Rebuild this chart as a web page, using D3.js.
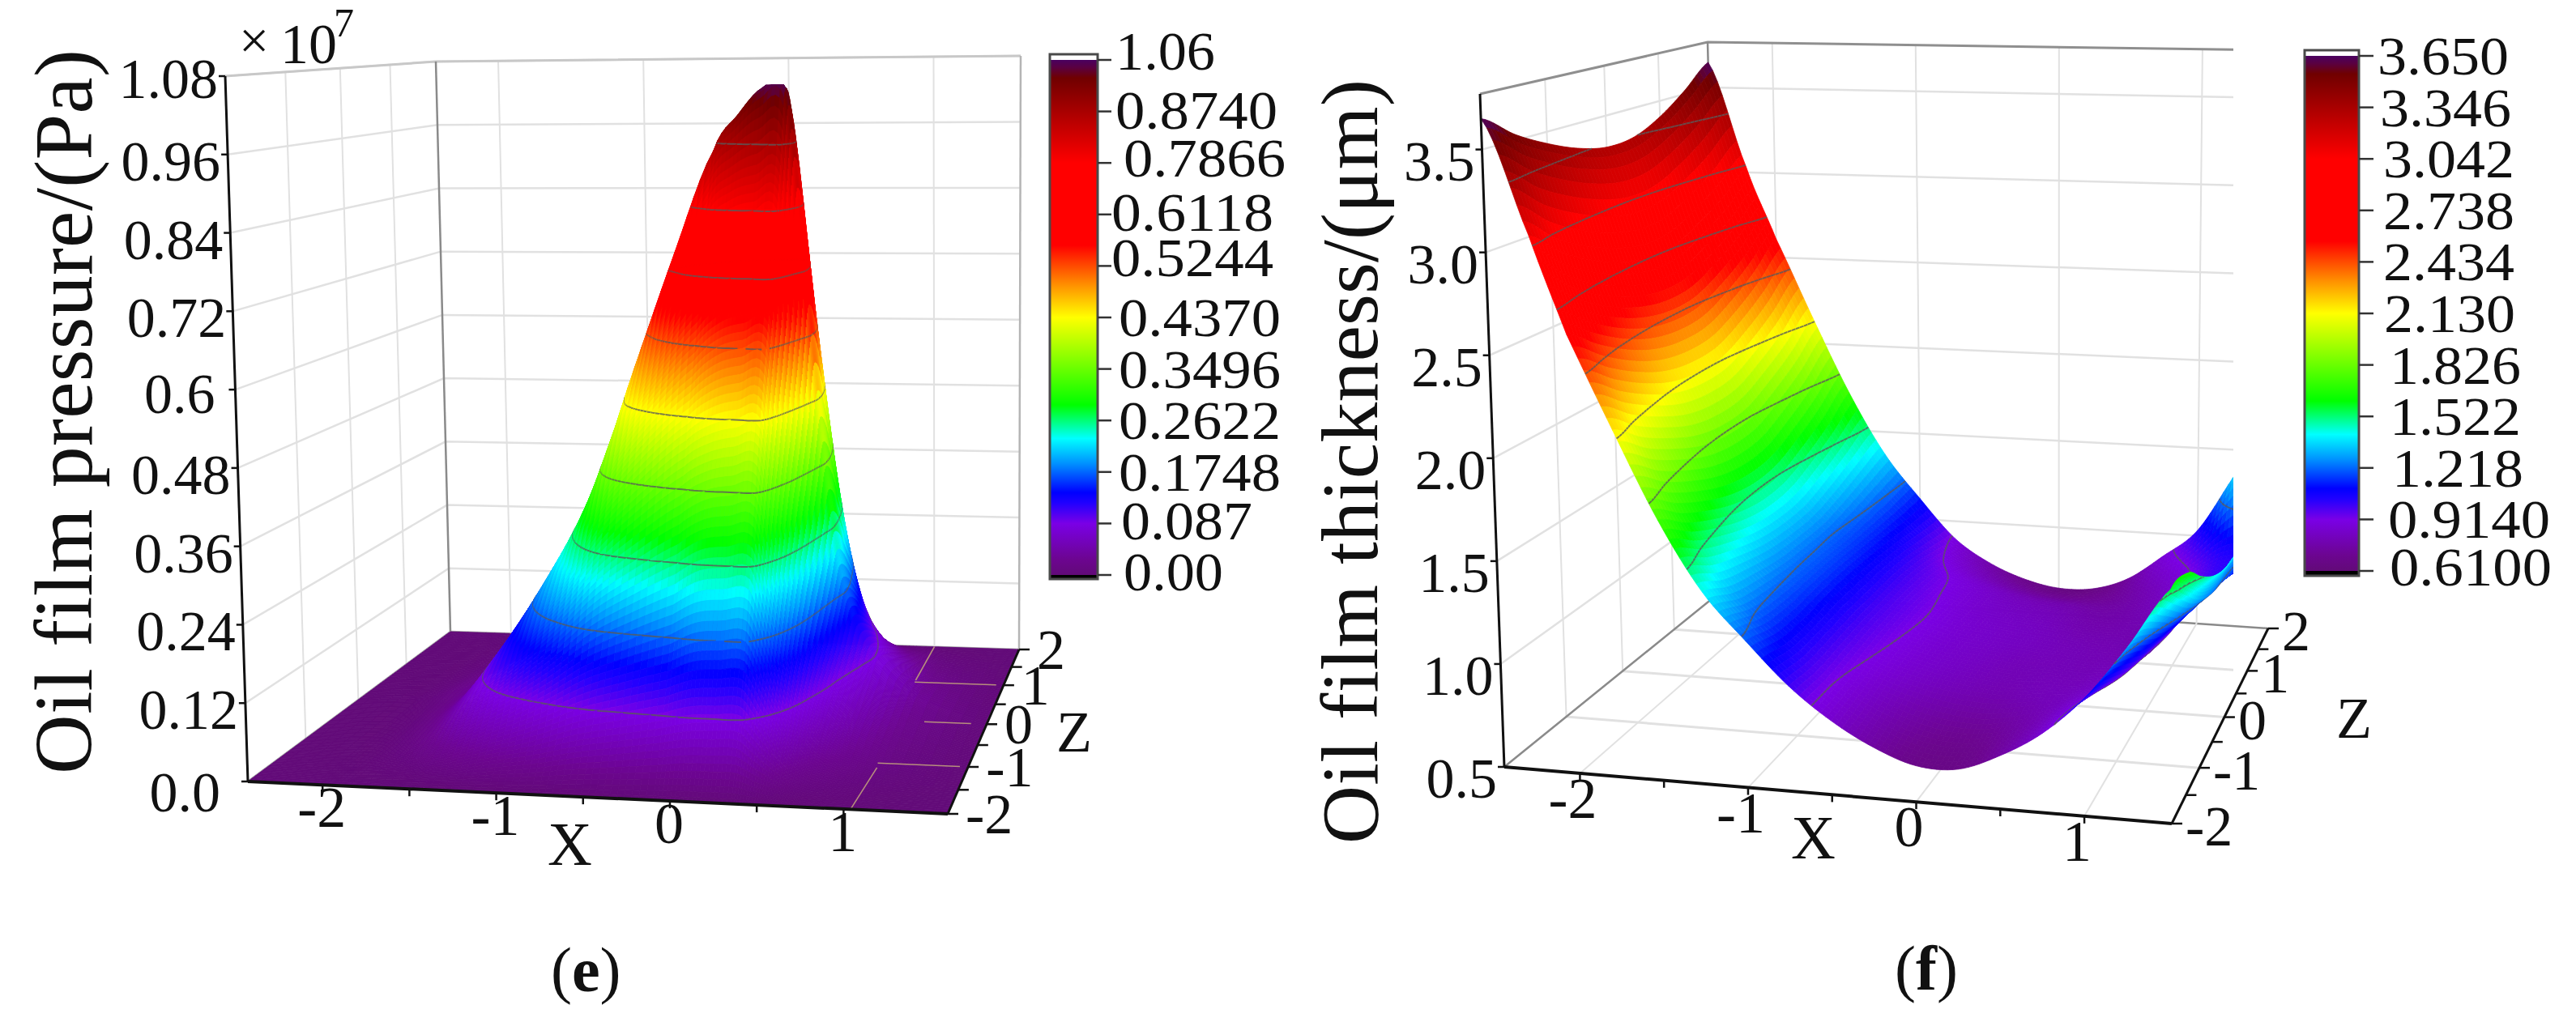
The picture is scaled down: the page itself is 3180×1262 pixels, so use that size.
<!DOCTYPE html>
<html><head><meta charset="utf-8">
<script src="https://cdn.jsdelivr.net/npm/d3@7"></script>
<style>html,body{margin:0;padding:0;background:#fff}svg{display:block}text{font-family:'Liberation Serif',serif;fill:#111}</style>
</head><body><svg id="chart" width="3180" height="1262"></svg>
<script>
// ---------- values ----------
const colorStopPos=[0,0.03,0.10,0.14,0.16,0.216,0.265,0.33,0.50,0.563,0.64,0.80,0.965,0.985,1];
const colorStopCol=['#620a78','#6c0590','#7a00e6','#2000ff','#0000ff','#0090ff','#00ffff','#00ff00','#ffff00','#ff9000','#ff0000','#ff0000','#700000','#5a0040','#4a0060'];

const eX=[-2.43,-2.05,-1.85,-1.6,-1.35,-1.1,-0.85,-0.6,-0.35,-0.1,0.05,0.2,0.35,0.45,0.55,0.65,0.75,0.9,1.15,1.6];
const eZ=[-2,-1.75,-1.5,-1.25,-1,-0.75,-0.5,-0.25,0,0.5,1,1.5,2];
const ePressure=[
[0,0,0,0,0,0,0,0,0,0,0,0,0,0,0,0,0,0,0,0],
[0,0,.002,.0065,.017,.03,.042,.058,.069,.08,.088,.09,.09,.066,.043,.024,.014,.009,.003,0],
[0,.001,.004,.017,.045,.075,.108,.145,.169,.19,.208,.212,.212,.156,.1,.056,.034,.02,.008,.001],
[0,.001,.006,.029,.077,.13,.185,.249,.293,.33,.354,.36,.36,.265,.17,.095,.058,.034,.014,.002],
[0,.002,.009,.038,.104,.175,.254,.348,.416,.47,.494,.504,.504,.371,.238,.133,.081,.048,.019,.002],
[0,.002,.011,.045,.122,.21,.308,.435,.524,.59,.624,.636,.636,.468,.3,.168,.102,.06,.024,.003],
[0,.003,.013,.048,.133,.233,.347,.505,.616,.71,.749,.763,.763,.562,.36,.202,.122,.072,.029,.004],
[0,.003,.015,.05,.139,.245,.373,.551,.701,.85,.89,.905,.905,.671,.43,.241,.146,.086,.034,.004],
[0,.004,.018,.05,.14,.25,.385,.58,.77,.94,1.0,1.045,1.045,.78,.5,.28,.17,.1,.04,.005],
[0,.003,.014,.04,.112,.2,.308,.464,.616,.752,.82,.84,.84,.624,.4,.224,.136,.08,.032,.004],
[0,.002,.009,.025,.07,.125,.193,.29,.385,.47,.52,.53,.53,.39,.25,.14,.085,.05,.02,.003],
[0,.001,.004,.011,.031,.055,.085,.128,.169,.207,.229,.233,.233,.172,.11,.062,.037,.022,.009,.001],
[0,0,0,0,0,0,0,0,0,0,0,0,0,0,0,0,0,0,0,0]];
const eYTicks=[0,0.12,0.24,0.36,0.48,0.6,0.72,0.84,0.96,1.08];
const eYLabels=['0.0','0.12','0.24','0.36','0.48','0.6','0.72','0.84','0.96','1.08'];
const eBarLabels=['0.00','0.087','0.1748','0.2622','0.3496','0.4370','0.5244','0.6118','0.7866','0.8740','1.06'];

const fX=[-2.45,-2.2,-2,-1.75,-1.5,-1.25,-1,-0.75,-0.5,-0.25,0,0.25,0.5,0.75,1,1.25,1.5,1.6];
const fZ=[-2,-1.5,-1,-0.5,0,0.5,1,1.5,2];
const fThickness=[
[3.65,3.09,2.62,2.17,1.75,1.42,1.20,1.0,.85,.74,.67,.67,.75,.87,1.05,1.30,1.58,1.66],
[3.53,2.95,2.50,2.05,1.64,1.34,1.15,.98,.87,.78,.72,.71,.76,.85,.98,1.22,1.45,1.54],
[3.44,2.85,2.40,1.96,1.56,1.30,1.14,.99,.90,.84,.80,.78,.80,.82,.90,1.12,1.32,1.44],
[3.37,2.78,2.33,1.89,1.50,1.27,1.15,1.00,.92,.86,.83,.80,.80,.80,.85,1.05,1.24,1.38],
[3.33,2.74,2.30,1.86,1.47,1.26,1.15,1.00,.93,.87,.84,.82,.80,.79,.80,1.00,1.20,1.36],
[3.34,2.75,2.31,1.87,1.48,1.26,1.14,1.00,.92,.86,.83,.81,.78,.78,.80,.98,1.14,1.32],
[3.41,2.82,2.38,1.94,1.54,1.29,1.13,.98,.90,.84,.80,.78,.76,.78,.85,.99,1.08,1.30],
[3.52,2.91,2.48,2.03,1.62,1.33,1.12,.94,.83,.76,.72,.71,.73,.80,.90,1.05,1.12,1.32],
[3.65,3.03,2.61,2.15,1.72,1.37,1.12,.90,.77,.69,.65,.66,.73,.87,1.03,1.34,1.65,1.75]];
const fYTicks=[0.5,1,1.5,2,2.5,3,3.5];
const fYLabels=['0.5','1.0','1.5','2.0','2.5','3.0','3.5'];
const fBarLabels=['0.6100','0.9140','1.218','1.522','1.826','2.130','2.434','2.738','3.042','3.346','3.650'];

const xTicks=[-2,-1,0,1];
const xMinorTicks=[-2,-1.5,-1,-0.5,0,0.5,1];
const zTicks=[-2,-1,0,1,2];
const zMinorTicks=[-2,-1.5,-1,-0.5,0,0.5,1,1.5,2];

// ---------- layout ----------
const svg=d3.select('#chart');
const col=d3.scaleLinear().domain(colorStopPos).range(colorStopCol).interpolate(d3.interpolateRgb).clamp(true);

const DEPTH=1.2; // foreshortening of the z axis
function quad(q){ // q: front-left, front-right, back-right, back-left
  return (u,v)=>{
    const w=v*DEPTH/(1+(DEPTH-1)*v);
    const fx=q[0][0]+(q[1][0]-q[0][0])*u,fy=q[0][1]+(q[1][1]-q[0][1])*u;
    const bx=q[3][0]+(q[2][0]-q[3][0])*u,by=q[3][1]+(q[2][1]-q[3][1])*u;
    return [fx+(bx-fx)*w,fy+(by-fy)*w];
  };
}
function cr(p,t){const n=p.length-1,i=Math.min(Math.floor(t),n-1),f=t-i;
  const a=p[Math.max(i-1,0)],b=p[i],c=p[i+1],d=p[Math.min(i+2,n)];
  return .5*(2*b+(c-a)*f+(2*a-5*b+4*c-d)*f*f+(3*b-a-3*c+d)*f*f*f);}
function lin(p,t){const n=p.length-1,i=Math.min(Math.floor(t),n-1);return p[i]+(p[i+1]-p[i])*(t-i);}

function panel(o){
  const g=svg.append('g');
  const xS=d3.scaleLinear().domain(o.xDomain).range([0,1]);
  const zS=d3.scaleLinear().domain([-2,2]).range([0,1]);
  const yS=d3.scaleLinear().domain(o.yDomain).range([0,1]);
  const hf=quad(o.floor),ht=quad(o.top);
  const P=(x,z,y)=>{const u=xS(x),v=zS(z),w=yS(y),a=hf(u,v),b=ht(u,v);return [a[0]+(b[0]-a[0])*w,a[1]+(b[1]-a[1])*w];};
  const line=d3.line();
  const [x0,x1]=o.xDomain,[y0,y1]=o.yDomain;
  const backG=g.append('g');
  const clipped=g.append('g');
  if(o.clipRight){
    svg.append('clipPath').attr('id',o.id+'c').append('rect').attr('x',0).attr('y',0).attr('width',o.clipRight).attr('height',1262);
    clipped.attr('clip-path',`url(#${o.id}c)`);
  }
  const seg=(sel,pts,stroke,w)=>sel.append('path').attr('d',line(pts)).attr('fill','none').attr('stroke',stroke).attr('stroke-width',w);
  // walls
  const grid='#e1e1e1';
  o.yTicks.slice(o.yTicks[0]===y0?1:0).forEach(y=>{
    seg(clipped,[P(x0,-2,y),P(x0,2,y),P(x1,2,y)],grid,2.5);
  });
  xTicks.forEach(x=>seg(clipped,[P(x,2,y0),P(x,2,y1)],grid,2));
  [-1,0,1].forEach(z=>seg(clipped,[P(x0,z,y0),P(x0,z,y1)],grid,2));
  // floor grid
  [-1,0,1].forEach(z=>seg(clipped,[P(x0,z,y0),P(x1,z,y0)],grid,3));
  xTicks.forEach(x=>seg(clipped,[P(x,-2,y0),P(x,2,y0)],grid,2));
  // frame
  seg(clipped,[P(x0,-2,y1),P(x0,2,y1),P(x1,2,y1)],o.topFrame,3);
  seg(clipped,[P(x0,2,y0),P(x0,2,y1)],'#8a8a8a',2.5);
  if(!o.clipRight) seg(clipped,[P(x1,2,y0),P(x1,2,y1)],'#b5b5b5',2.5);
  seg(clipped,[P(x0,-2,y0),P(x0,2,y0)],o.floorEdge,2.5);
  seg(backG,[P(x0,2,y0),P(x1,2,y0)],o.floorEdge,2.5);
  // surface (values tessellated only for drawing)
  const fine=[],nR=o.z.length-1,nC=o.x.length-1,sr=o.subZ,sc=o.subX;
  for(let i=0;i<=nR*sr;i++){
    const tz=i/sr,r=[];
    for(let j=0;j<=nC*sc;j++){
      const tx=j/sc,vals=o.h.map(row=>cr(row,tx));
      r.push(Math.max(o.hMin,Math.min(o.hMax,cr(vals,tz))));
    }
    fine.push(r);
  }
  const fx=d3.range(nC*sc+1).map(j=>lin(o.x,j/sc)),fz=d3.range(nR*sr+1).map(i=>lin(o.z,i/sr));
  const frac=h=>(h-o.cMin)/(o.cMax-o.cMin);
  const items=[];
  for(let i=nR*sr-1;i>=0;i--){
    const lines=[];
    for(let j=0;j<nC*sc;j++){
      const a=fine[i][j],b=fine[i][j+1],c=fine[i+1][j+1],d=fine[i+1][j];
      const xa=fx[j],xb=fx[j+1],za=fz[i],zb=fz[i+1];
      const poly=[P(xa,za,a),P(xb,za,b),P(xb,zb,c),P(xa,zb,d)];
      const fill=col(frac((a+b+c+d)/4));
      items.push({d:'M'+poly.join('L')+'Z',fill,stroke:fill,w:.8});
      o.levels.forEach(L=>{
        const cross=[];
        if((a-L)*(b-L)<0) cross.push([xa+(xb-xa)*(L-a)/(b-a),za]);
        if((b-L)*(c-L)<0) cross.push([xb,za+(zb-za)*(L-b)/(c-b)]);
        if((c-L)*(d-L)<0) cross.push([xa+(xb-xa)*(L-d)/(c-d),zb]);
        if((d-L)*(a-L)<0) cross.push([xa,za+(zb-za)*(L-a)/(d-a)]);
        if(cross.length>=2) lines.push('M'+P(cross[0][0],cross[0][1],L)+'L'+P(cross[1][0],cross[1][1],L));
      });
    }
    if(lines.length) items.push({d:lines.join(''),fill:'none',stroke:'#5a5a5a',w:2,op:.8});
  }
  clipped.append('g').selectAll('path').data(items).join('path')
    .attr('d',d=>d.d).attr('fill',d=>d.fill).attr('stroke',d=>d.stroke)
    .attr('stroke-width',d=>d.w).attr('stroke-opacity',d=>d.op||1);
  // floor streaks showing through the surface
  if(o.streaks) o.streaks.forEach(s=>seg(g,[P(s[0],s[1],y0),P(s[2],s[3],y0)],'#b78f7d',1.6));
  // axes
  const black='#111';
  seg(g,[P(x0,-2,y0),P(x0,-2,y1)],black,3);
  seg(g,[P(x0,-2,y0),P(x1,-2,y0)],black,4);
  seg(g,[P(x1,-2,y0),P(x1,2,y0)],black,3);
  o.yTicks.forEach((y,k)=>{
    const p=P(x0,-2,y);
    seg(g,[[p[0]-8,p[1]],p],black,2.5);
    const n=(o.yNudge&&o.yNudge[o.yLabels[k]])||[0,0];
    g.append('text').text(o.yLabels[k]).attr('x',p[0]-9+n[0]).attr('y',p[1]+o.yDy+n[1]).attr('text-anchor','end').attr('font-size',70);
  });
  xMinorTicks.forEach(x=>{const p=P(x,-2,y0);seg(g,[p,[p[0],p[1]+9]],black,2.5);});
  xTicks.forEach(x=>{const p=P(x,-2,y0);
    g.append('text').text(x).attr('x',p[0]+o.xLab[0]).attr('y',p[1]+o.xLab[1]).attr('text-anchor','middle').attr('font-size',72);});
  zMinorTicks.forEach(z=>{const p=P(x1,z,y0);seg(g,[p,[p[0]+13,p[1]]],black,2.5);});
  zTicks.forEach(z=>{const p=P(x1,z,y0);
    g.append('text').text(z).attr('x',p[0]+o.zLab[0]).attr('y',p[1]+o.zLab[1]).attr('font-size',70);});
  g.append('text').text('X').attr('x',o.xTitle[0]).attr('y',o.xTitle[1]).attr('font-size',76);
  g.append('text').text('Z').attr('x',o.zTitle[0]).attr('y',o.zTitle[1]).attr('font-size',72);
  g.append('text').text(o.title).attr('transform',`translate(${o.titlePos[0]},${o.titlePos[1]}) rotate(-90)`)
    .attr('font-size',o.titleSize).attr('textLength',o.titleLen).attr('lengthAdjust','spacing');
  // colour bar
  const [bx0,bx1]=o.barX;
  const pos=d3.scalePoint().domain(o.barLabels).range(o.barY);
  const grad=svg.append('linearGradient').attr('id',o.id+'g').attr('x1',0).attr('x2',0).attr('y1',1).attr('y2',0);
  colorStopPos.forEach((p,i)=>grad.append('stop').attr('offset',p).attr('stop-color',colorStopCol[i]));
  const yb=o.barY[0],yt=o.barY[1];
  g.append('rect').attr('x',bx0).attr('y',yt).attr('width',bx1-bx0).attr('height',yb-yt).attr('fill',`url(#${o.id}g)`);
  g.append('rect').attr('x',bx0).attr('y',yb).attr('width',bx1-bx0).attr('height',o.barPad[0]).attr('fill','#000');
  g.append('rect').attr('x',bx0).attr('y',yt-o.barPad[1]).attr('width',bx1-bx0).attr('height',yb-yt+o.barPad[0]+o.barPad[1]).attr('fill','none').attr('stroke','#4a4a4a').attr('stroke-width',3);
  const lens={4:123,5:162,6:200};
  o.barLabels.forEach((l,i)=>{
    const y=pos(l);
    seg(g,[[bx1,y],[bx1+o.barTick,y]],'#333',2.5);
    g.append('text').text(l).attr('x',o.barLabelX[i]).attr('y',y+23+o.barLabelDy[i]).attr('font-size',68)
      .attr('textLength',lens[l.length]).attr('lengthAdjust','spacingAndGlyphs');
  });
  g.append('text').attr('x',o.tag[0]).attr('y',o.tag[1]).attr('font-size',78).attr('font-weight',400)
    .call(t=>{t.append('tspan').text('(');t.append('tspan').attr('font-weight',700).text(o.tagL);t.append('tspan').text(')');});
}

const eCfg={id:'e',x:eX,z:eZ,h:ePressure,xDomain:[-2.43,1.6],yDomain:[0,1.08],hMin:0,hMax:1.05,cMin:0,cMax:1.06,subX:6,subZ:10,
  levels:d3.range(1,10).map(k=>k*0.106),
  floor:[[306,965],[1170,1005],[1258,802],[556,780]],top:[[278,94],[1168,98],[1260,69],[538,76]],
  yTicks:eYTicks,yLabels:eYLabels,yDy:32,yNudge:{'0.6':[-16,-3],'0.0':[-25,5],'1.08':[0,-5],'0.72':[1,0]},
  xLab:[-1,52],zLab:[22,24],xTitle:[676,1068],zTitle:[1304,928],
  topFrame:'#c8c8c8',floorEdge:'#a8a8a8',
  title:'Oil film pressure/(Pa)',titlePos:[113,956],titleSize:102,titleLen:895,
  barX:[1296,1355],barY:[710,74],barPad:[5,7],barTick:17,barLabels:eBarLabels,
  barLabelX:[1387,1384,1381,1381,1381,1381,1372,1372,1387,1377,1377],
  barLabelDy:[-4,-3,0,0,0,0,-10,-3,-6,-2,-11],
  streaks:[[1.0,1,1.55,1],[1.2,0,1.5,0],[1.05,-1,1.55,-1],[1.04,-2,1.06,-1.1],[1,1.05,1,2]],
  tag:[680,1224],tagL:'e'};
panel(eCfg);
const fCfg={id:'f',x:fX,z:fZ,h:fThickness,xDomain:[-2.45,1.52],yDomain:[0.5,3.77],hMin:0.61,hMax:3.66,cMin:0.61,cMax:3.65,subX:8,subZ:8,
  levels:d3.range(1,10).map(k=>0.61+k*0.304),
  floor:[[1857,947],[2681,1017],[2800,776],[2125,730]],top:[[1827,116],[2690,142],[2811,62],[2108,52]],clipRight:2757,
  yTicks:fYTicks,yLabels:fYLabels,yDy:38,yNudge:{},
  xLab:[-9,55],zLab:[17,27],xTitle:[2211,1060],zTitle:[2884,911],
  topFrame:'#8f8f8f',floorEdge:'#8a8a8a',
  title:'Oil film thickness/(μm)',titlePos:[1700,1042],titleSize:100,titleLen:944,
  barX:[2845,2912],barY:[705,69],barPad:[6,7],barTick:18,barLabels:fBarLabels,
  barLabelX:[2950,2948,2953,2950,2950,2943,2942,2942,2942,2938,2935],
  barLabelDy:[-5,0,0,0,0,0,0,0,0,0,0],
  tag:[2339,1222],tagL:'f'};
panel(fCfg);
// exponent of the y axis in panel e
svg.append('text').text('×').attr('x',295).attr('y',72).attr('font-size',66);
svg.append('text').text('10').attr('x',346).attr('y',78).attr('font-size',70);
svg.append('text').text('7').attr('x',412).attr('y',45).attr('font-size',50);
</script></body></html>
